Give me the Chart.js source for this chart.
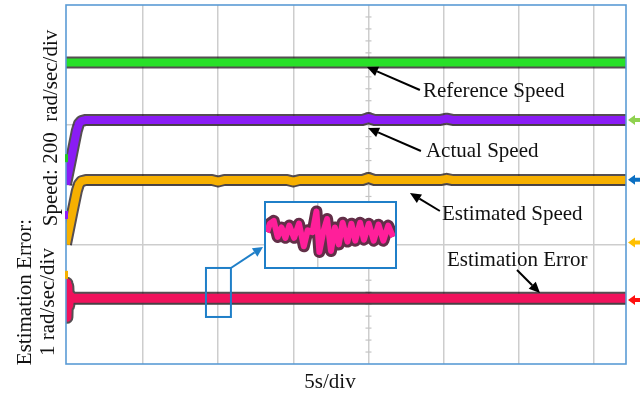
<!DOCTYPE html>
<html>
<head>
<meta charset="utf-8">
<script src="https://cdn.jsdelivr.net/npm/chart.js@4/dist/chart.umd.min.js"></script>
<style>
  html, body { margin: 0; padding: 0; background: #fff; }
  #wrap { position: relative; width: 641px; height: 393px; overflow: hidden; }
  #scope { position: absolute; left: 0; top: 0; }
  #zoomBox { position: absolute; box-sizing: border-box; border: 2px solid #1f7fc8; background: #fff; }
  #zoomBox canvas { display: block; }
</style>
</head>
<body>
<div id="wrap">
  <canvas id="scope" width="641" height="393"></canvas>
  <div id="zoomBox"><canvas id="zoom"></canvas></div>
</div>
<script>
// ---- scope settings ----
const SPEED_PER_DIV = 200;   // rad/s per division
const ERROR_PER_DIV = 1;     // rad/s per division
const gridTimes = [5, 10, 15, 20, 25, 30, 35];   // s (5 s/div)
const gridDivs = [1, 2, 3, 4, 5];

// ---- recorded traces (time in s, speed in rad/s) ----
const refT      = [-0.12, 37.13];
const refSpeed  = [208, 208];

const actT      = [-0.12, 0.3, 0.6, 0.74, 0.9, 1.2, 19.6, 20.0, 20.4, 24.8, 25.2, 25.6, 37.13];
const actSpeed  = [0, 105, 180, 203, 212, 216, 216, 222, 216, 216, 220, 216, 216];

const estT      = [-0.12, 0.3, 0.6, 0.74, 0.9, 1.2, 9.6, 10.0, 10.4, 14.6, 15.0, 15.4, 19.6, 20.0, 20.4, 24.8, 25.2, 25.6, 37.13];
const estSpeed  = [0, 105, 178, 201, 211, 215, 215, 210, 215, 215, 210, 215, 215, 222, 215, 215, 219, 215, 215];

const errT      = [-0.12, -0.06, 0.0, 0.06, 0.15, 0.3, 37.13];
const errValue  = [0.25, -0.32, 0.2, -0.12, 0.04, 0, 0];

// magnified slice of the estimation error (inset)
const zoomT     = [1, 4, 8, 12, 16, 20, 24, 29, 34, 39, 43, 48, 52, 55, 59, 63, 67, 71, 75, 79, 84, 88, 92, 97, 101, 106, 111, 116, 121, 126, 131];
const zoomErr   = [3, 12, 15, -2, 8, -3, 10, -3, 12, -12, 5, 3, 25, -18, 3, 17, -17, 8, -10, 13, -7, 12, -6, 13, -5, 12, -6, 11, -6, 10, -2];

// channel ground levels on screen (divisions)
const refGround = 4.0, actGround = 3.0, estGround = 2.0, errGround = 1.1;

// trigger / level markers on the right edge (divisions)
const markerLevels = [4.08, 3.08, 2.03, 1.07];
const markerColors = ['#8fd14f', '#0a6fc2', '#ffc000', '#ff1010'];

// channel offset markers on the left edge (divisions)
const offsetLevels = [3.44, 2.49, 1.49];
const offsetColors = ['#22c822', '#8a1cf5', '#f5b000'];

function toScreen(ts, vs, ground, perDiv) {
  return ts.map((t, i) => ({ x: t, y: ground + vs[i] / perDiv }));
}

const traces = [
  { data: toScreen(refT, refSpeed, refGround, SPEED_PER_DIV), color: '#28e028', w: 8 },
  { data: toScreen(actT, actSpeed, actGround, SPEED_PER_DIV), color: '#8a1cf5', w: 8 },
  { data: toScreen(estT, estSpeed, estGround, SPEED_PER_DIV), color: '#f7b000', w: 8 },
  { data: toScreen(errT, errValue, errGround, ERROR_PER_DIV), color: '#f0125c', w: 9 }
];

const datasets = [];
traces.forEach(tr => {
  datasets.push({ data: tr.data, borderColor: 'rgba(20,10,15,0.72)', borderWidth: tr.w + 4,
    pointRadius: 0, tension: 0, order: 2, borderJoinStyle: 'round', borderCapStyle: 'butt' });
  datasets.push({ data: tr.data, borderColor: tr.color, borderWidth: tr.w,
    pointRadius: 0, tension: 0, order: 1, borderJoinStyle: 'round', borderCapStyle: 'butt' });
});

const SERIF = '21px "Liberation Serif", "Times New Roman", serif';

function arrow(ctx, x1, y1, x2, y2, color, lw, head, half) {
  const a = Math.atan2(y2 - y1, x2 - x1);
  const bx = x2 - head * Math.cos(a), by = y2 - head * Math.sin(a);
  ctx.strokeStyle = color; ctx.fillStyle = color; ctx.lineWidth = lw;
  ctx.beginPath(); ctx.moveTo(x1, y1); ctx.lineTo(bx, by); ctx.stroke();
  ctx.beginPath();
  ctx.moveTo(x2, y2);
  ctx.lineTo(bx + half * Math.sin(a), by - half * Math.cos(a));
  ctx.lineTo(bx - half * Math.sin(a), by + half * Math.cos(a));
  ctx.closePath(); ctx.fill();
}

// annotation text and pointers, in (time s, division) coordinates
const labels = [
  { text: 'Reference Speed',  t: 23.62, d: 4.463, from: [23.42, 4.58],  to: [19.90, 4.964] },
  { text: 'Actual Speed',     t: 23.82, d: 3.46,  from: [23.49, 3.56],  to: [19.97, 3.944] },
  { text: 'Estimated Speed',  t: 24.89, d: 2.407, from: [24.75, 2.557], to: [22.76, 2.858] },
  { text: 'Estimation Error', t: 25.22, d: 1.638, from: [29.88, 1.571], to: [31.41, 1.187] }
];
const detailBox = { t0: 9.19, t1: 10.85, d0: 0.786, d1: 1.605 };
const insetBox  = { t0: 13.05, t1: 21.90, d0: 1.588, d1: 2.724 };

const scopeDecor = {
  id: 'scopeDecor',
  beforeDatasetsDraw(chart) {
    const { ctx, scales: { x, y } } = chart;
    // minor ticks along the centre vertical graticule line
    ctx.save();
    ctx.strokeStyle = '#c4c4c4'; ctx.lineWidth = 1.2;
    const cx = x.getPixelForValue(20);
    for (let k = 1; k < 30; k++) {
      const py = y.getPixelForValue(k * 0.2);
      ctx.beginPath(); ctx.moveTo(cx - 3, py); ctx.lineTo(cx + 3, py); ctx.stroke();
    }
    ctx.restore();
  },
  afterDatasetsDraw(chart) {
    const { ctx, chartArea: a, scales: { x, y } } = chart;
    ctx.save();
    // plot frame
    ctx.strokeStyle = '#5a9bd5'; ctx.lineWidth = 1.6;
    ctx.strokeRect(a.left, a.top, a.right - a.left, a.bottom - a.top);

    // right-edge level markers
    markerLevels.forEach((lv, i) => {
      const py = y.getPixelForValue(lv), tx = a.right + 2;
      ctx.fillStyle = markerColors[i];
      ctx.beginPath();
      ctx.moveTo(tx, py); ctx.lineTo(tx + 7, py - 5); ctx.lineTo(tx + 7, py - 2);
      ctx.lineTo(tx + 12, py - 2); ctx.lineTo(tx + 12, py + 2); ctx.lineTo(tx + 7, py + 2);
      ctx.lineTo(tx + 7, py + 5); ctx.closePath(); ctx.fill();
    });
    // left-edge channel offset markers
    offsetLevels.forEach((lv, i) => {
      const py = y.getPixelForValue(lv);
      ctx.fillStyle = offsetColors[i];
      ctx.fillRect(a.left - 1, py - 4, 3, 8);
    });

    // labels and pointers
    ctx.font = SERIF; ctx.fillStyle = '#111'; ctx.textAlign = 'left'; ctx.textBaseline = 'alphabetic';
    labels.forEach(l => {
      ctx.fillStyle = '#111';
      ctx.fillText(l.text, x.getPixelForValue(l.t), y.getPixelForValue(l.d));
      arrow(ctx, x.getPixelForValue(l.from[0]), y.getPixelForValue(l.from[1]),
                 x.getPixelForValue(l.to[0]), y.getPixelForValue(l.to[1]), '#000', 2, 11, 5);
    });

    // detail window and its pointer to the inset
    const bx0 = x.getPixelForValue(detailBox.t0), bx1 = x.getPixelForValue(detailBox.t1);
    const by0 = y.getPixelForValue(detailBox.d1), by1 = y.getPixelForValue(detailBox.d0);
    ctx.strokeStyle = '#1f7fc8'; ctx.lineWidth = 2;
    ctx.strokeRect(bx0, by0, bx1 - bx0, by1 - by0);
    arrow(ctx, bx1, by0, x.getPixelForValue(insetBox.t0) - 1, y.getPixelForValue(1.956), '#1f7fc8', 2, 10, 5);

    // axis captions
    ctx.fillStyle = '#111'; ctx.textAlign = 'center';
    ctx.fillText('5s/div', (a.left + a.right) / 2 - 16, 388);
    const vText = (s, px, py) => {
      ctx.save(); ctx.translate(px, py); ctx.rotate(-Math.PI / 2);
      ctx.fillText(s, 0, 0); ctx.restore();
    };
    vText('Speed: 200  rad/sec/div', 57, 128);
    vText('Estimation Error:', 31, 292);
    vText('1 rad/sec/div', 54, 302);
    ctx.restore();
  }
};

const hiddenAxis = (min, max, ticks) => ({
  type: 'linear', min, max,
  border: { display: false },
  grid: { color: '#cdcdcd', lineWidth: 1.5, drawTicks: false },
  ticks: { display: false },
  afterBuildTicks: s => { s.ticks = ticks.map(v => ({ value: v })); }
});

const scope = new Chart(document.getElementById('scope'), {
  type: 'line',
  data: { datasets },
  options: {
    responsive: false, animation: false, devicePixelRatio: 1,
    layout: { padding: { left: 66, right: 15, top: 5, bottom: 29 } },
    plugins: { legend: { display: false }, tooltip: { enabled: false } },
    scales: {
      x: hiddenAxis(-0.12, 37.13, gridTimes),
      y: hiddenAxis(0, 6, gridDivs)
    }
  },
  plugins: [scopeDecor]
});

// ---- inset: magnified error slice ----
const sx = scope.scales.x, sy = scope.scales.y;
const L = Math.round(sx.getPixelForValue(insetBox.t0)), R = Math.round(sx.getPixelForValue(insetBox.t1));
const T = Math.round(sy.getPixelForValue(insetBox.d1)), B = Math.round(sy.getPixelForValue(insetBox.d0));
const box = document.getElementById('zoomBox');
box.style.left = L + 'px'; box.style.top = T + 'px';
box.style.width = (R - L) + 'px'; box.style.height = (B - T) + 'px';
const zc = document.getElementById('zoom');
zc.width = R - L - 4; zc.height = B - T - 4;

const zoomData = zoomT.map((t, i) => ({ x: t, y: zoomErr[i] }));
new Chart(zc, {
  type: 'line',
  data: { datasets: [
    { data: zoomData, borderColor: 'rgba(70,10,40,0.85)', borderWidth: 12, pointRadius: 0, tension: 0, order: 2, borderJoinStyle: 'round' },
    { data: zoomData, borderColor: '#ff1f9a', borderWidth: 6, pointRadius: 0, tension: 0, order: 1, borderJoinStyle: 'round' }
  ] },
  options: {
    responsive: false, animation: false, devicePixelRatio: 1,
    layout: { padding: 0 },
    plugins: { legend: { display: false }, tooltip: { enabled: false } },
    scales: {
      x: hiddenAxis(0, 133, [53]),
      y: { type: 'linear', min: -34, max: 34, display: false }
    }
  }
});
</script>
</body>
</html>
